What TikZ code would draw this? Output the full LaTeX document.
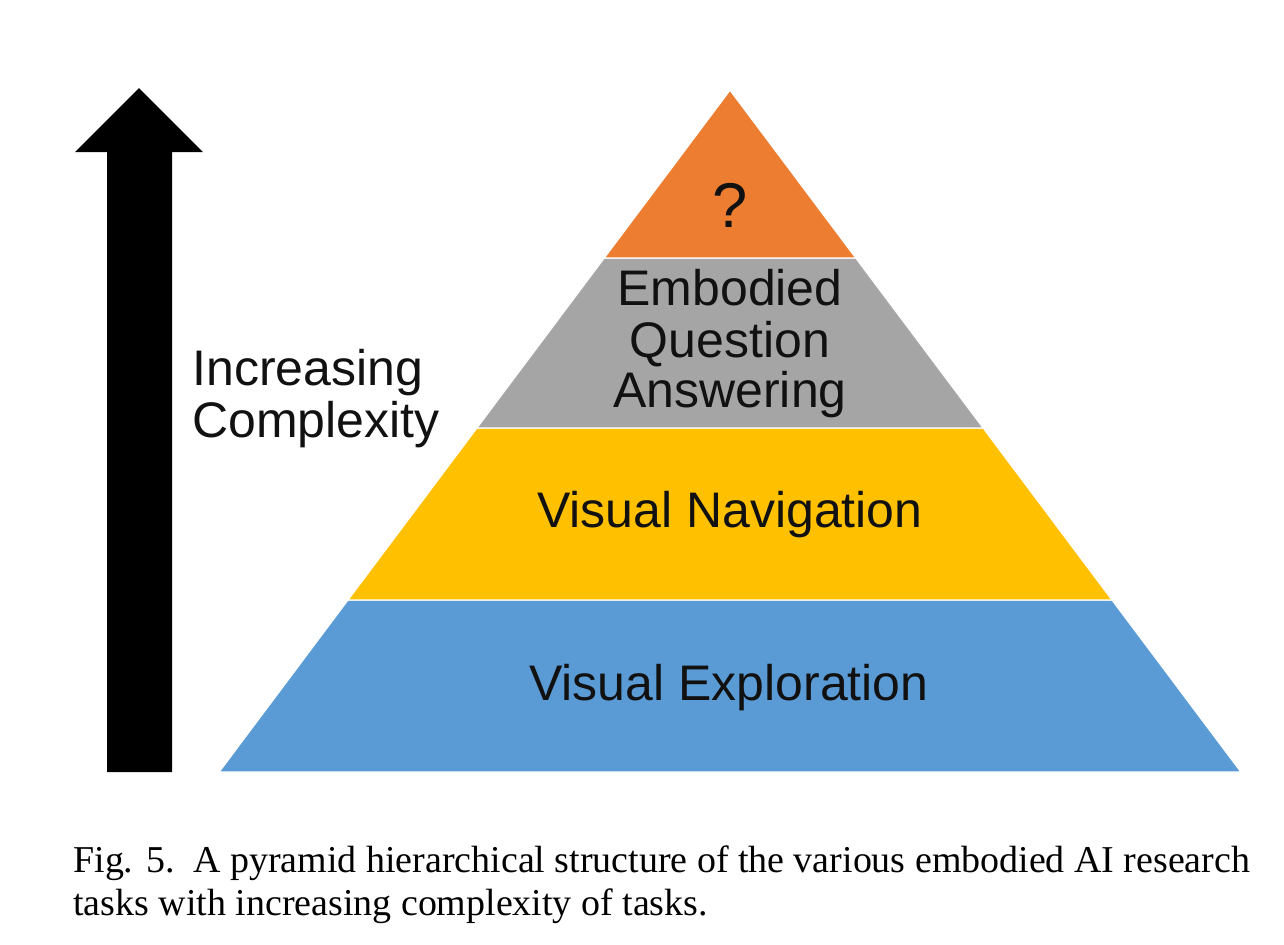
\documentclass[tikz,border=0pt]{standalone}
\usepackage{fontspec}
\setmainfont{Liberation Serif}
\newfontfamily\arialfont{Liberation Sans}
\usetikzlibrary{calc}
\definecolor{pyrorange}{HTML}{ED7D31}
\definecolor{pyrgray}{HTML}{A5A5A5}
\definecolor{pyryellow}{HTML}{FFC000}
\definecolor{pyrblue}{HTML}{5B9BD5}
\definecolor{labelink}{HTML}{111111}
\begin{document}
\begin{tikzpicture}[x=0.02cm,y=-0.02cm,
  layer/.style={draw=white,line width=0.8pt},
  lbl/.style={inner sep=0pt,anchor=base,text=labelink,font=\arialfont\fontsize{28.45}{30}\selectfont},
  sidelbl/.style={lbl,anchor=base west},
  captext/.style={inner sep=0pt,anchor=base west,text width=23.54cm,align=justify,
    font=\fontsize{21.6}{24.5}\selectfont}]
\useasboundingbox (0,0) rectangle (1284,944);
% arrow
\fill[black] (107,772) -- (107,152) -- (75,152) -- (139,88) -- (203,152) -- (172,152) -- (172,772) -- cycle;
% pyramid
\coordinate (A) at (730,90);
\coordinate (BL) at (219,772);
\coordinate (BR) at (1241,772);
\coordinate (L1) at ($(A)!0.2463!(BL)$);
\coordinate (R1) at ($(A)!0.2463!(BR)$);
\coordinate (L2) at ($(A)!0.4956!(BL)$);
\coordinate (R2) at ($(A)!0.4956!(BR)$);
\coordinate (L3) at ($(A)!0.7478!(BL)$);
\coordinate (R3) at ($(A)!0.7478!(BR)$);
\filldraw[layer,fill=pyrblue] (L3) -- (BL) -- (BR) -- (R3) -- cycle;
\filldraw[layer,fill=pyryellow] (L2) -- (L3) -- (R3) -- (R2) -- cycle;
\filldraw[layer,fill=pyrgray] (L1) -- (L2) -- (R2) -- (R1) -- cycle;
\filldraw[layer,fill=pyrorange] (A) -- (L1) -- (R1) -- cycle;
% labels
\node[lbl,font=\arialfont\fontsize{36}{40}\selectfont] (q) at (730,227) {?};
\node[lbl] (eqa1) at (730,305) {Embodied};
\node[lbl] (eqa2) at (730,357) {Question};
\node[lbl] (eqa3) at (730,407) {Answering};
\node[lbl] (vn) at (730,527) {Visual Navigation};
\node[lbl] (ve) at (729,700) {Visual Exploration};
\node[sidelbl] (ic1) at (192,385) {Increasing};
\node[sidelbl] (ic2) at (192,437) {Complexity};
% caption
\node[captext] (cap) at (73,872) {Fig. 5.\ \ A pyramid hierarchical structure of the various embodied AI research tasks with increasing complexity of tasks.};
\end{tikzpicture}
\end{document}
